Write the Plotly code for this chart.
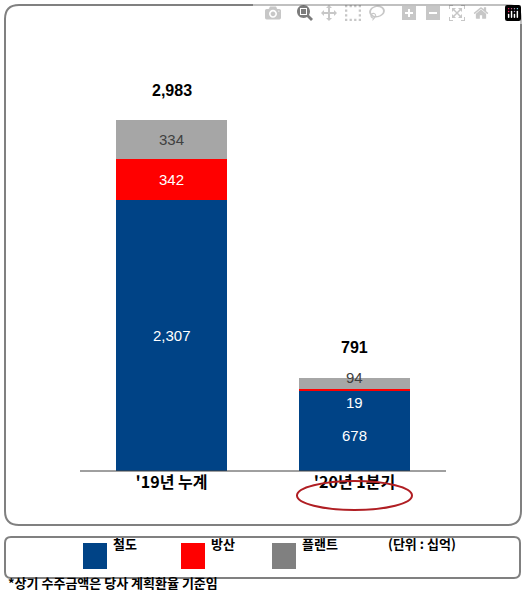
import plotly.graph_objects as go

W, H = 527, 608

categories = ["'19년 누계", "'20년 1분기"]
railway = [2307, 678]
defense = [342, 19]
plant = [334, 94]
totals = [2983, 791]
series_names = ["철도", "방산", "플랜트"]
colors = ["#004386", "#FF0000", "#A6A6A6"]


def px(x):
    return x / W


def py(y):
    return 1 - y / H


def rounded(x0, y0, x1, y1, r):
    # rounded rectangle in pixel space -> paper path
    pts = f"M {px(x0 + r)},{py(y0)} L {px(x1 - r)},{py(y0)} Q {px(x1)},{py(y0)} {px(x1)},{py(y0 + r)} " \
          f"L {px(x1)},{py(y1 - r)} Q {px(x1)},{py(y1)} {px(x1 - r)},{py(y1)} " \
          f"L {px(x0 + r)},{py(y1)} Q {px(x0)},{py(y1)} {px(x0)},{py(y1 - r)} " \
          f"L {px(x0)},{py(y0 + r)} Q {px(x0)},{py(y0)} {px(x0 + r)},{py(y0)} Z"
    return dict(type="path", xref="paper", yref="paper", path=pts,
                line=dict(color="#808080", width=2))


fig = go.Figure()
for vals, name, c in zip([railway, defense, plant], series_names, colors):
    fig.add_trace(go.Bar(x=categories, y=vals, name=name, marker_color=c,
                         marker_line_width=0, width=0.61, showlegend=False))

ann = []
num_font = dict(family="Liberation Sans, Arial", size=15)
kr = "Noto Sans CJK KR"
for i, cat in enumerate(categories):
    ann.append(dict(x=cat, y=totals[i], text=f"<b>{totals[i]:,}</b>", yshift=30,
                    showarrow=False, font=dict(num_font, color="black", size=16)))
    ann.append(dict(x=cat, y=railway[i] / 2 if i == 0 else railway[i] * 0.45,
                    text=f"{railway[i]:,}", showarrow=False, font=dict(num_font, color="white")))
ann.append(dict(x=categories[0], y=railway[0] + defense[0] / 2, text=f"{defense[0]:,}",
                showarrow=False, font=dict(num_font, color="white")))
ann.append(dict(x=categories[0], y=railway[0] + defense[0] + plant[0] / 2, text=f"{plant[0]:,}",
                showarrow=False, font=dict(num_font, color="#404040")))
ann.append(dict(x=categories[1], y=railway[1] + defense[1], text=f"{defense[1]:,}", yshift=-14,
                showarrow=False, font=dict(num_font, color="white")))
ann.append(dict(x=categories[1], y=totals[1], text=f"{plant[1]:,}", yshift=0,
                showarrow=False, font=dict(num_font, color="#404040")))

# legend row
leg_x = [83, 181, 272]
for xx, name in zip(leg_x, series_names):
    ann.append(dict(x=px(xx + 28), y=py(555), xref="paper", yref="paper", xanchor="left",
                    text=f"<b>{name}</b>", showarrow=False,
                    font=dict(family=kr, size=13, color="black")))
ann.append(dict(x=px(386), y=py(555), xref="paper", yref="paper", xanchor="left",
                text="<b>(단위 : 십억)</b>", showarrow=False,
                font=dict(family=kr, size=13, color="black")))
ann.append(dict(x=px(6), y=py(594), xref="paper", yref="paper", xanchor="left",
                text="<b>*상기 수주금액은 당사 계획환율 기준임</b>", showarrow=False,
                font=dict(family=kr, size=13, color="black")))

shapes = [rounded(5, 5, 521, 525, 14), rounded(5, 537, 520, 578, 6)]
for xx, c in zip(leg_x, ["#004386", "#FF0000", "#808080"]):
    shapes.append(dict(type="rect", xref="paper", yref="paper", x0=px(xx), x1=px(xx + 24),
                       y0=py(569), y1=py(543), fillcolor=c, line_width=0))
shapes.append(dict(type="circle", xref="paper", yref="paper", x0=px(297), x1=px(412),
                   y0=py(510), y1=py(481), line=dict(color="#B01E23", width=2)))
shapes.append(dict(type="line", xref="paper", yref="paper", x0=px(80), x1=px(446),
                   y0=py(471), y1=py(471), line=dict(color="#404040", width=1)))

fig.update_layout(
    width=W, height=H, margin=dict(l=0, r=0, t=0, b=0),
    barmode="stack", bargap=0.39,
    paper_bgcolor="white", plot_bgcolor="white",
    xaxis=dict(domain=[px(80), px(446)], showline=False, ticks="",
               tickprefix="<b>", ticksuffix="</b>",
               tickfont=dict(family=kr, size=16, color="black")),
    yaxis=dict(domain=[py(471), py(80)], range=[0, 3323], visible=False),
    annotations=ann, shapes=shapes,
)

fig.write_html("out.html", post_script="document.body.style.margin='0';document.body.style.overflow='hidden';")
